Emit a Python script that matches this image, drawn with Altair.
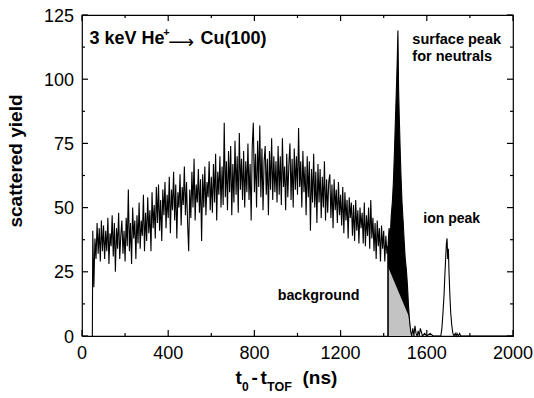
import altair as alt
import pandas as pd

FONT = "Liberation Sans"

# ---------------- data ----------------
# spectrum start (detector onset)
start_x = [48]
start_y = [0]

# noisy continuum, channels every 5 ns from 50 ns to 1415 ns
noise_x = list(range(50, 1420, 5))
noise_y = [
    41, 19, 38, 30, 44, 32, 42, 29, 45, 33,
    43, 30, 41, 33, 46, 28, 40, 35, 47, 31,
    44, 25, 42, 34, 48, 30, 39, 45, 32, 41,
    29, 46, 35, 57, 33, 44, 28, 50, 38, 45,
    30, 47, 36, 52, 34, 45, 39, 55, 33, 48,
    37, 54, 40, 49, 33, 56, 42, 51, 38, 58,
    44, 59, 41, 53, 37, 57, 47, 60, 42, 55,
    46, 62, 40, 57, 49, 64, 45, 59, 38, 56,
    50, 63, 43, 58, 51, 66, 47, 60, 44, 33,
    57, 46, 64, 50, 69, 45, 59, 52, 65, 48,
    61, 37, 63, 50, 66, 47, 60, 54, 68, 49,
    62, 48, 67, 52, 71, 45, 64, 55, 70, 50,
    66, 51, 83, 54, 68, 49, 72, 56, 74, 47,
    67, 52, 76, 55, 70, 48, 79, 57, 69, 53,
    72, 50, 68, 56, 75, 53, 67, 45, 74, 83,
    56, 71, 50, 76, 58, 82, 54, 73, 49, 68,
    74, 55, 69, 47, 72, 57, 77, 53, 70, 56,
    68, 52, 74, 55, 70, 51, 77, 58, 66, 49,
    71, 54, 67, 75, 53, 69, 50, 73, 57, 70,
    55, 81, 58, 68, 50, 72, 56, 66, 47, 70,
    54, 68, 41, 65, 52, 71, 50, 64, 44, 67,
    52, 65, 46, 62, 50, 68, 45, 61, 48, 60,
    63, 46, 59, 42, 61, 49, 57, 44, 60, 47,
    55, 43, 58, 40, 56, 45, 53, 38, 54, 46,
    52, 39, 51, 37, 53, 41, 49, 36, 50, 42,
    48, 36, 52, 35, 47, 39, 50, 34, 53, 38,
    46, 33, 44, 30, 45, 35, 42, 29, 43, 34,
    41, 29, 39, 32,
]

# surface peak for neutrals
peak_x = [1420, 1425, 1430, 1435, 1440, 1445, 1450, 1455, 1460, 1463, 1466,
          1469, 1472, 1476, 1480, 1485, 1490, 1495, 1500, 1505, 1510, 1515,
          1520, 1525, 1530]
peak_y = [35, 42, 38, 47, 52, 60, 72, 86, 99, 108, 119,
          97, 86, 74, 63, 52, 45, 37, 30, 26, 20, 12,
          6, 2, 0]

# low tail between the peaks
tail_x = [1535, 1540, 1545, 1550, 1555, 1560, 1565, 1570, 1580, 1590, 1600,
          1615, 1630, 1645, 1660]
tail_y = [3, 0, 4, 1, 0, 2, 0, 3, 0, 1, 0, 1, 0, 0, 0]

# ion peak
ion_x = [1665, 1670, 1675, 1680, 1684, 1688, 1691, 1694, 1697, 1700, 1703,
         1707, 1711, 1716, 1721, 1726]
ion_y = [0, 3, 9, 16, 24, 31, 36, 38, 30, 34, 25, 16, 9, 4, 1, 0]

# end of spectrum
end_x = [1732, 1736, 1740, 1746, 1752, 1758, 1800, 1900, 2000]
end_y = [1, 0, 1, 0, 1, 0, 0, 0, 0]

# background under the surface peak
bg_x = [1420, 1515, 1528]
bg_y = [27, 8, 0]

# axis ticks
x_major = [0, 400, 800, 1200, 1600, 2000]
x_minor = [200, 600, 1000, 1400, 1800]
y_major = [0, 25, 50, 75, 100, 125]
y_minor = [12.5, 37.5, 62.5, 87.5, 112.5]

# annotations (data coordinates, left aligned, alphabetic baseline)
ann_text = ["3 keV He", "+", "Cu(100)", "surface peak", "for neutrals",
            "ion peak", "background"]
ann_x = [35, 377, 550, 1533, 1533, 1584, 908]
ann_y = [113.6, 116.8, 113.6, 113.8, 107.0, 43.9, 14.2]
ann_size = [18, 11, 18, 14.5, 14.5, 14, 14.3]

arrow_text = ["\u27f6"]
arrow_x = [400]
arrow_y = [112.3]

W, H = 431, 321

# ---------------- chart ----------------
xs = alt.Scale(domain=[0, 2000], nice=False, zero=False)
ys = alt.Scale(domain=[0, 125], nice=False)

line_df = pd.DataFrame({
    "x": start_x + noise_x + peak_x + tail_x + ion_x + end_x,
    "y": start_y + noise_y + peak_y + tail_y + ion_y + end_y,
})
peak_df = pd.DataFrame({"x": peak_x, "y": peak_y})
bg_df = pd.DataFrame({"x": bg_x, "y": bg_y})
edge_df = pd.DataFrame({"x": [bg_x[0]], "y0": [0], "y1": [peak_y[0]]})

line = alt.Chart(line_df).mark_line(color="black", strokeWidth=1.1).encode(
    x=alt.X("x:Q", scale=xs, axis=None),
    y=alt.Y("y:Q", scale=ys, axis=None),
)

peak_area = alt.Chart(peak_df).mark_area(color="black", opacity=1).encode(
    x=alt.X("x:Q", scale=xs, axis=None),
    y=alt.Y("y:Q", scale=ys, axis=None),
)

bg_area = alt.Chart(bg_df).mark_area(color="#c3c3c3", opacity=1).encode(
    x=alt.X("x:Q", scale=xs, axis=None),
    y=alt.Y("y:Q", scale=ys, axis=None),
)

edge = alt.Chart(edge_df).mark_rule(color="black", strokeWidth=1.6).encode(
    x=alt.X("x:Q", scale=xs, axis=None),
    y=alt.Y("y0:Q", scale=ys, axis=None),
    y2="y1:Q",
)


def xticks(vals, a, b):
    return alt.Chart(pd.DataFrame({"v": vals})).mark_rule(
        color="black", strokeWidth=1.2).encode(
        x=alt.X("v:Q", scale=xs, axis=None), y=alt.value(a), y2=alt.value(b))


def yticks(vals, a, b):
    return alt.Chart(pd.DataFrame({"v": vals})).mark_rule(
        color="black", strokeWidth=1.2).encode(
        y=alt.Y("v:Q", scale=ys, axis=None), x=alt.value(a), x2=alt.value(b))


ticks = [
    xticks(x_major, H, H - 6), xticks(x_minor, H, H - 3),
    xticks(x_major, 0, 6), xticks(x_minor, 0, 3),
    yticks(y_major, 0, 6), yticks(y_minor, 0, 3),
    yticks(y_major, W, W - 6), yticks(y_minor, W, W - 3),
]

# tick labels, placed through the scales
xlab = alt.Chart(pd.DataFrame({"v": x_major})).mark_text(
    font=FONT, fontSize=18, align="center", baseline="alphabetic",
    color="black").encode(
    x=alt.X("v:Q", scale=xs, axis=None), y=alt.value(H + 22.5),
    text=alt.Text("v:Q", format="d"))

ylab = alt.Chart(pd.DataFrame({"v": y_major})).mark_text(
    font=FONT, fontSize=18, align="right", baseline="alphabetic", dy=6.5,
    color="black").encode(
    y=alt.Y("v:Q", scale=ys, axis=None), x=alt.value(-8),
    text=alt.Text("v:Q", format="d"))

ann_df = pd.DataFrame({"x": ann_x, "y": ann_y, "t": ann_text, "s": ann_size})
ann = alt.Chart(ann_df).mark_text(
    font=FONT, fontWeight="bold", align="left", baseline="alphabetic",
    color="black").encode(
    x=alt.X("x:Q", scale=xs, axis=None),
    y=alt.Y("y:Q", scale=ys, axis=None),
    text="t:N",
    size=alt.Size("s:Q", scale=None, legend=None),
)

arrow = alt.Chart(pd.DataFrame({"x": arrow_x, "y": arrow_y, "t": arrow_text})).mark_text(
    font="DejaVu Sans", fontSize=18, align="left", baseline="alphabetic",
    color="black").encode(
    x=alt.X("x:Q", scale=xs, axis=None),
    y=alt.Y("y:Q", scale=ys, axis=None),
    text="t:N",
)

# axis titles (with subscripts) as text
ytitle = alt.Chart(pd.DataFrame({"t": ["scattered yield"]})).mark_text(
    font=FONT, fontWeight="bold", fontSize=19, angle=270, align="center",
    baseline="middle", color="black").encode(
    x=alt.value(-66), y=alt.value(146), text="t:N")

xt_parts = [("t", 153.5, 368.5, 19), ("0", 160, 376, 12), ("-", 169.5, 368.5, 19),
            ("t", 178.5, 368.5, 19), ("TOF", 185, 376, 12.5), ("(ns)", 220.5, 368.5, 19)]
xtitle = [
    alt.Chart(pd.DataFrame({"t": [p[0]]})).mark_text(
        font=FONT, fontWeight="bold", fontSize=p[3], align="left",
        baseline="alphabetic", color="black").encode(
        x=alt.value(p[1]), y=alt.value(p[2]), text="t:N")
    for p in xt_parts
]

chart = alt.layer(
    peak_area, bg_area, edge, line, *ticks, xlab, ylab, ann, arrow, ytitle, *xtitle
).properties(
    width=W, height=H,
    padding={"left": 82, "top": 15, "right": 21, "bottom": 62},
    autosize=alt.AutoSizeParams(type="none"),
).configure_view(
    stroke="black", strokeWidth=1.2
)

chart.save("out.html", embed_options={"renderer": "svg", "actions": False})
